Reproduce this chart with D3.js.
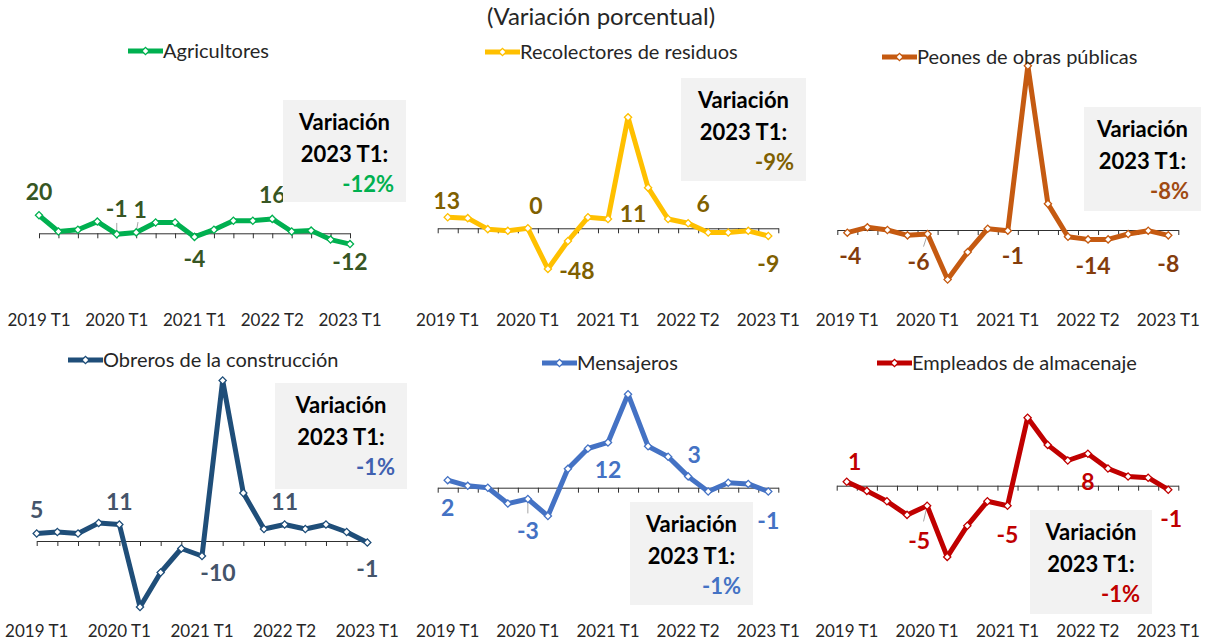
<!DOCTYPE html>
<html>
<head>
<meta charset="utf-8">
<script src="https://cdn.jsdelivr.net/npm/d3@7"></script>
<style>
body { margin: 0; background: #fff; }
svg { display: block; font-family: Lato, "Open Sans", sans-serif; }
</style>
</head>
<body>
<div id="chart"></div>
<script>
// data: variacion porcentual, 17 trimestres (2019 T1 ... 2023 T1)
var tickLabels = ["2019 T1", "2020 T1", "2021 T1", "2022 T2", "2023 T1"];
var tickIndex = [0, 4, 8, 12, 16];

var agricultores = [20, 2, 4, 13, -1, 1, 12, 12, -4, 4, 14, 14, 16, 2, 3, -7, -12];
var recolectores = [13, 12, -1, -3, 0, -48, -15, 13, 11, 131, 48, 11, 6, -5, -5, -3, -9];
var peones       = [-4, 4, 0, -8, -6, -74, -33, 2, -1, 245, 39, -10, -14, -14, -6, -1, -8];
var obreros      = [5, 6, 5, 12, 11, -44, -21, -5, -10, 107, 32, 8, 11, 8, 11, 6, -1];
var mensajeros   = [2, 0.5, 0, -4.2, -3, -7.5, 5, 10.4, 12, 24.8, 11, 8.2, 3, -1, 1.3, 1, -1];
var empleados    = [1, -1.3, -3.9, -7.3, -5, -17.8, -10, -3.9, -5, 17, 10.2, 6.3, 8, 4.3, 2.3, 2, -1];

var seriesNames = ["Agricultores", "Recolectores de residuos", "Peones de obras públicas",
                   "Obreros de la construcción", "Mensajeros", "Empleados de almacenaje"];
var labelIdx = [
  [0, 4, 5, 8, 12, 16],
  [0, 4, 5, 8, 12, 16],
  [0, 4, 8, 12, 16],
  [0, 4, 8, 12, 16],
  [0, 4, 8, 12, 16],
  [0, 4, 8, 12, 16]
];

// layout / styles for each small chart
var panels = [
  { values: agricultores, color: "#00b050", labelColor: "#375623", boxColor: "#00b050",
    x: [39, 350], onTick: true, y: [287.3, 161.3], domain: [-60, 80], tickY: 320,
    legend: [128, 51], box: [283, 100, 123, 102],
    off: [[0, -24], [0, -25, 1], [4, -23, 1], [0, 22], [0, -24], [0, 18]] },
  { values: recolectores, color: "#ffc000", labelColor: "#7f6000", boxColor: "#7f6000",
    x: [437.7, 778.3], onTick: false, y: [279.1, 92.8], domain: [-60, 160], tickY: 320,
    legend: [485, 52], box: [681, 78, 125, 103],
    off: [[-1, -17], [8, -23], [29, 2], [25, -5], [15, -19], [0, 28]] },
  { values: peones, color: "#c55a11", labelColor: "#843c0c", boxColor: "#a04a12",
    x: [837.3, 1178.3], onTick: false, y: [297, 62.5], domain: [-100, 250], tickY: 320,
    legend: [882, 57], box: [1084, 107, 117, 104],
    off: [[3, 23], [-9, 28, 1], [5, 25], [5, 26], [0, 28]] },
  { values: obreros, color: "#1f4e79", labelColor: "#44546a", boxColor: "#4060b0",
    x: [36.7, 367.3], onTick: true, y: [631, 376], domain: [-60, 110], tickY: 631,
    legend: [68, 360], box: [275, 383, 132, 106],
    off: [[0, -24], [0, -23], [16, 17], [0, -23], [0, 26]] },
  { values: mensajeros, color: "#4472c4", labelColor: "#4472c4", boxColor: "#4472c4",
    x: [437.7, 778.3], onTick: false, y: [563.1, 374.6], domain: [-20, 30], tickY: 631,
    legend: [542, 363], box: [630, 502, 123, 103],
    off: [[0, 28], [0, 32, 1], [0, 27], [6, -22], [0, 29]] },
  { values: empleados, color: "#c00000", labelColor: "#c00000", boxColor: "#c00000",
    x: [836.7, 1178.3], onTick: false, y: [585.7, 385.7], domain: [-25, 25], tickY: 631,
    legend: [877, 363], box: [1030, 510, 122, 104],
    off: [[8, -20], [-8, 35, 1], [0, 29], [0, 28], [3, 29]] }
];

var W = 1205, H = 641;
var svg = d3.select("#chart").append("svg")
  .attr("width", W).attr("height", H);

// title
svg.append("text")
  .attr("x", 601).attr("y", 17).attr("dy", "0.35em")
  .attr("text-anchor", "middle")
  .style("font-size", "24px").style("fill", "#262626")
  .text("(Variación porcentual)");

var diamond = d3.symbol(d3.symbolSquare, 26);
// plain hyphen as minus sign, like the original
var fmt = d3.formatLocale({ decimal: ".", thousands: ",", grouping: [3],
                            currency: ["", ""], minus: "-" }).format(".0f");

panels.forEach(function(p, k) {
  var n = p.values.length;
  var x = d3.scaleLinear()
    .domain(p.onTick ? [0, n - 1] : [-0.5, n - 0.5])
    .range(p.x);
  var y = d3.scaleLinear().domain(p.domain).range(p.y);
  var g = svg.append("g");

  // category axis at zero
  var ticks = p.onTick ? d3.range(0, n) : d3.range(-0.5, n, 1);
  g.append("g")
    .attr("transform", "translate(0," + y(0) + ")")
    .call(d3.axisBottom(x).tickValues(ticks).tickFormat("").tickSize(5).tickSizeOuter(0))
    .call(function(a) {
      a.select(".domain").attr("stroke", "#303030");
      a.selectAll(".tick line").attr("stroke", "#303030");
    });

  // tick labels at the bottom of the panel
  g.selectAll(".tlab")
    .data(tickIndex)
    .enter().append("text")
    .attr("x", function(d) { return x(d); })
    .attr("y", p.tickY).attr("dy", "0.35em")
    .attr("text-anchor", "middle")
    .style("font-size", "17px").style("fill", "#262626")
    .text(function(d, i) { return tickLabels[i]; });

  // leader lines
  labelIdx[k].forEach(function(idx, j) {
    var o = p.off[j];
    if (!o[2]) return;
    var px = x(idx), py = y(p.values[idx]);
    g.append("line")
      .attr("x1", px + o[0] * 0.12).attr("y1", py + o[1] * 0.12)
      .attr("x2", px + o[0] * 0.45).attr("y2", py + o[1] * 0.45)
      .attr("stroke", "#a6a6a6").attr("stroke-width", 1);
  });

  // line
  var line = d3.line()
    .x(function(d, i) { return x(i); })
    .y(function(d) { return y(d); });
  g.append("path")
    .datum(p.values)
    .attr("d", line)
    .attr("fill", "none")
    .attr("stroke", p.color)
    .attr("stroke-width", 5)
    .attr("stroke-linejoin", "round");

  // markers
  g.selectAll(".mk")
    .data(p.values)
    .enter().append("path")
    .attr("d", diamond)
    .attr("transform", function(d, i) { return "translate(" + x(i) + "," + y(d) + ") rotate(45)"; })
    .attr("fill", "#fff")
    .attr("stroke", p.color)
    .attr("stroke-width", 1.3);

  // data labels
  g.selectAll(".dl")
    .data(labelIdx[k])
    .enter().append("text")
    .attr("x", function(d, j) { return x(d) + p.off[j][0]; })
    .attr("y", function(d, j) { return y(p.values[d]) + p.off[j][1]; })
    .attr("dy", "0.36em")
    .attr("text-anchor", "middle")
    .style("font-size", "23px").style("font-weight", "bold")
    .style("fill", p.labelColor)
    .text(function(d) { return fmt(p.values[d]); });

  // legend
  var lx = p.legend[0], ly = p.legend[1];
  g.append("line")
    .attr("x1", lx).attr("x2", lx + 35).attr("y1", ly).attr("y2", ly)
    .attr("stroke", p.color).attr("stroke-width", 5);
  g.append("path")
    .attr("d", diamond)
    .attr("transform", "translate(" + (lx + 17.5) + "," + ly + ") rotate(45)")
    .attr("fill", "#fff").attr("stroke", p.color).attr("stroke-width", 1.3);
  g.append("text")
    .attr("x", lx + 35).attr("y", ly).attr("dy", "0.35em")
    .style("font-size", "20px").style("fill", "#262626")
    .text(seriesNames[k]);

  // annotation box
  var b = p.box;
  g.append("rect")
    .attr("x", b[0]).attr("y", b[1]).attr("width", b[2]).attr("height", b[3])
    .attr("fill", "#f2f2f2");
  var cx = b[0] + b[2] / 2;
  g.append("text")
    .attr("x", cx).attr("y", b[1] + 22).attr("dy", "0.36em")
    .attr("text-anchor", "middle")
    .style("font-size", "22px").style("font-weight", "bold").style("fill", "#000")
    .text("Variación");
  g.append("text")
    .attr("x", cx).attr("y", b[1] + 54).attr("dy", "0.36em")
    .attr("text-anchor", "middle")
    .style("font-size", "22px").style("font-weight", "bold").style("fill", "#000")
    .text("2023 T1:");
  g.append("text")
    .attr("x", b[0] + b[2] - 12).attr("y", b[1] + 84).attr("dy", "0.36em")
    .attr("text-anchor", "end")
    .style("font-size", "22px").style("font-weight", "bold").style("fill", p.boxColor)
    .text(fmt(p.values[n - 1]) + "%");
});
</script>
</body>
</html>
